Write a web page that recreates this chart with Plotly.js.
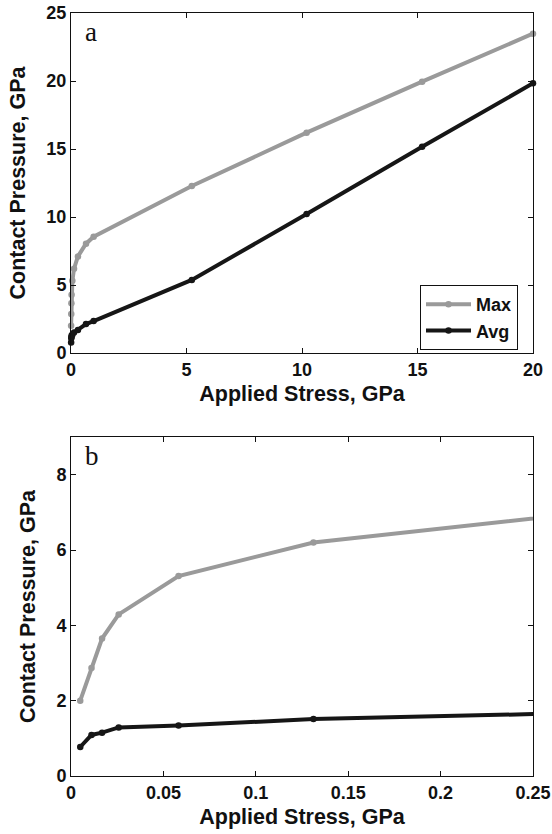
<!DOCTYPE html>
<html>
<head>
<meta charset="utf-8">
<script src="https://cdn.plot.ly/plotly-3.0.1.min.js"></script>
<style>html,body{margin:0;padding:0;background:#fff;}#chart{width:552px;height:834px;}</style>
</head>
<body>
<div id="chart"></div>
<script>
// Applied stress (GPa)
const appliedStress = [0.005, 0.0111, 0.0168, 0.0258, 0.0582, 0.1312, 0.3, 0.65, 0.98, 5.23, 10.2, 15.2, 20];
// Contact pressure (GPa)
const maxPressure = [2.0, 2.87, 3.65, 4.29, 5.31, 6.2, 7.1, 8.04, 8.55, 12.28, 16.2, 19.95, 23.48];
const avgPressure = [0.77, 1.09, 1.15, 1.29, 1.34, 1.51, 1.7, 2.13, 2.35, 5.37, 10.22, 15.17, 19.83];
const seriesNames = ["Max", "Avg"];
const seriesColors = ["#9a9a9a", "#161616"];
const topXTicks = [0, 5, 10, 15, 20];
const topYTicks = [0, 5, 10, 15, 20, 25];
const botXTicks = [0, 0.05, 0.1, 0.15, 0.2, 0.25];
const botXLabels = ["0", "0.05", "0.1", "0.15", "0.2", "0.25"];
const botYTicks = [0, 2, 4, 6, 8];
const panelLabels = ["a", "b"];
const xTitle = "Applied Stress, GPa";
const yTitle = "Contact Pressure, GPa";

const W = 552, H = 834;
const sans = "Liberation Sans, Arial, sans-serif";
const series = [maxPressure, avgPressure];

const traces = [];
series.forEach((ys, i) => {
  const common = {
    x: appliedStress, y: ys, name: seriesNames[i], mode: "lines+markers",
    line: {color: seriesColors[i], width: 4},
    marker: {color: seriesColors[i], size: 6.5},
    cliponaxis: false
  };
  traces.push(Object.assign({}, common, {xaxis: "x", yaxis: "y", showlegend: true}));
  traces.push(Object.assign({}, common, {xaxis: "x2", yaxis: "y2", showlegend: false}));
});

const tickFont = {family: sans, size: 18, color: "#111", weight: "bold"};
const titleFont = {family: sans, size: 21.5, color: "#111", weight: "bold"};
const axBase = {
  showline: true, linecolor: "#111", linewidth: 1, mirror: "ticks",
  ticks: "inside", ticklen: 5, tickcolor: "#111", tickwidth: 1,
  showgrid: false, zeroline: false, tickfont: tickFont, automargin: false
};
const xd = [71 / W, 533 / W];

const layout = {
  width: W, height: H,
  margin: {l: 0, r: 0, t: 0, b: 0},
  paper_bgcolor: "#fff", plot_bgcolor: "#fff",
  showlegend: true,
  xaxis: Object.assign({}, axBase, {domain: xd, anchor: "y", range: [0, 20], tickvals: topXTicks,
    title: {text: xTitle, font: titleFont, standoff: 7}}),
  yaxis: Object.assign({}, axBase, {domain: [1 - 353 / H, 1 - 13 / H], anchor: "x", range: [0, 25], tickvals: topYTicks,
    title: {text: yTitle, font: titleFont, standoff: 14}}),
  xaxis2: Object.assign({}, axBase, {domain: xd, anchor: "y2", range: [0, 0.25], tickvals: botXTicks, ticktext: botXLabels,
    title: {text: xTitle, font: titleFont, standoff: 7}}),
  yaxis2: Object.assign({}, axBase, {domain: [1 - 776 / H, 1 - 437 / H], anchor: "x2", range: [0, 9], tickvals: botYTicks,
    title: {text: yTitle, font: titleFont, standoff: 14}}),
  legend: {
    x: 518 / W, xanchor: "right", y: 1 - 285 / H, yanchor: "top",
    bordercolor: "#111", borderwidth: 1, bgcolor: "#fff", itemwidth: 45,
    font: {family: sans, size: 18, color: "#111", weight: "bold"}
  },
  annotations: [
    {text: panelLabels[0], xref: "x domain", yref: "y domain", x: 0.025, y: 0.995, xanchor: "left", yanchor: "top", showarrow: false,
      font: {family: "Liberation Serif, Times New Roman, serif", size: 27, color: "#111"}},
    {text: panelLabels[1], xref: "x2 domain", yref: "y2 domain", x: 0.025, y: 0.995, xanchor: "left", yanchor: "top", showarrow: false,
      font: {family: "Liberation Serif, Times New Roman, serif", size: 27, color: "#111"}}
  ]
};

Plotly.newPlot("chart", traces, layout, {staticPlot: true, displayModeBar: false});
</script>
</body>
</html>
